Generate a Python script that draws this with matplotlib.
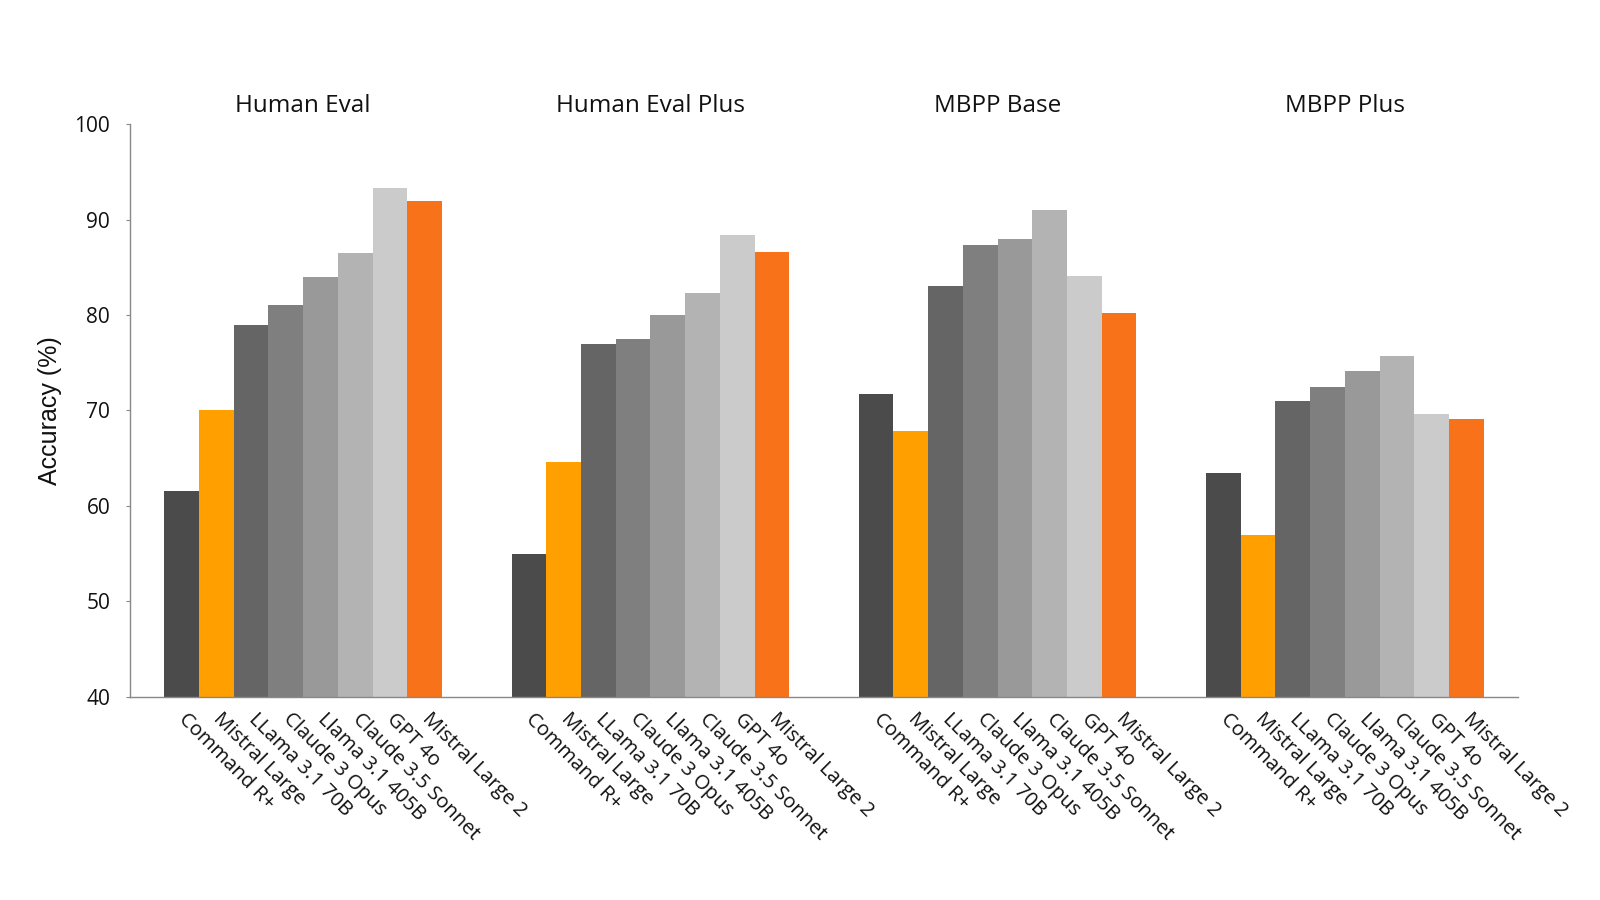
import numpy as np
import matplotlib.pyplot as plt

plt.rcParams['font.family'] = ['Open Sans', 'DejaVu Sans']

# benchmarks and models
benchmarks = ['Human Eval', 'Human Eval Plus', 'MBPP Base', 'MBPP Plus']
models = ['Command R+', 'Mistral Large', 'LLama 3.1 70B', 'Claude 3 Opus',
          'Llama 3.1 405B', 'Claude 3.5 Sonnet', 'GPT 4o', 'Mistral Large 2']
colors = ['#4b4b4b', '#ffa000', '#656565', '#7f7f7f',
          '#999999', '#b3b3b3', '#cbcbcb', '#f77219']

# accuracy (%) per benchmark, one value per model
human_eval = [61.6, 70.0, 79.0, 81.1, 84.0, 86.5, 93.3, 92.0]
human_eval_plus = [54.9, 64.6, 77.0, 77.5, 80.0, 82.3, 88.4, 86.6]
mbpp_base = [71.7, 67.8, 83.0, 87.3, 88.0, 91.0, 84.1, 80.2]
mbpp_plus = [63.4, 56.9, 71.0, 72.5, 74.1, 75.7, 69.6, 69.1]

scores = [human_eval, human_eval_plus, mbpp_base, mbpp_plus]

fig = plt.figure(figsize=(16, 9), dpi=100)
ax = fig.add_axes([0.081, 0.226, 0.868, 0.636])

n = len(models)
step = n + 2
positions = []
labels = []
for g, vals in enumerate(scores):
    x = g * step + np.arange(n)
    ax.bar(x, np.array(vals) - 40, bottom=40, width=1.0, color=colors, linewidth=0)
    positions.extend(x)
    labels.extend(models)
    ax.text(g * step + (n - 1) / 2, 100.7, benchmarks[g], ha='center', va='bottom',
            fontsize=17.5, color='#111111')

ax.set_xlim(-1.5, len(scores) * step - 1.5)
ax.set_ylim(40, 100)
ax.set_yticks(np.arange(40, 101, 10))
ax.tick_params(axis='y', labelsize=15, length=3, width=0.8, color='#888888',
               labelcolor='#111111', pad=11)
ax.set_xticks(positions)
ax.set_xticklabels(labels, rotation=-45, ha='left', va='center', rotation_mode='anchor',
                   fontsize=14.5, color='#111111')
ax.tick_params(axis='x', length=0, pad=14)
ax.set_ylabel('Accuracy (%)', fontsize=18, color='#111111', labelpad=9,
              family=['Liberation Sans', 'DejaVu Sans'])

for side in ['top', 'right']:
    ax.spines[side].set_visible(False)
for side in ['left', 'bottom']:
    ax.spines[side].set_color('#888888')
    ax.spines[side].set_linewidth(1)

fig.savefig('out.png', dpi=100, facecolor='white')
